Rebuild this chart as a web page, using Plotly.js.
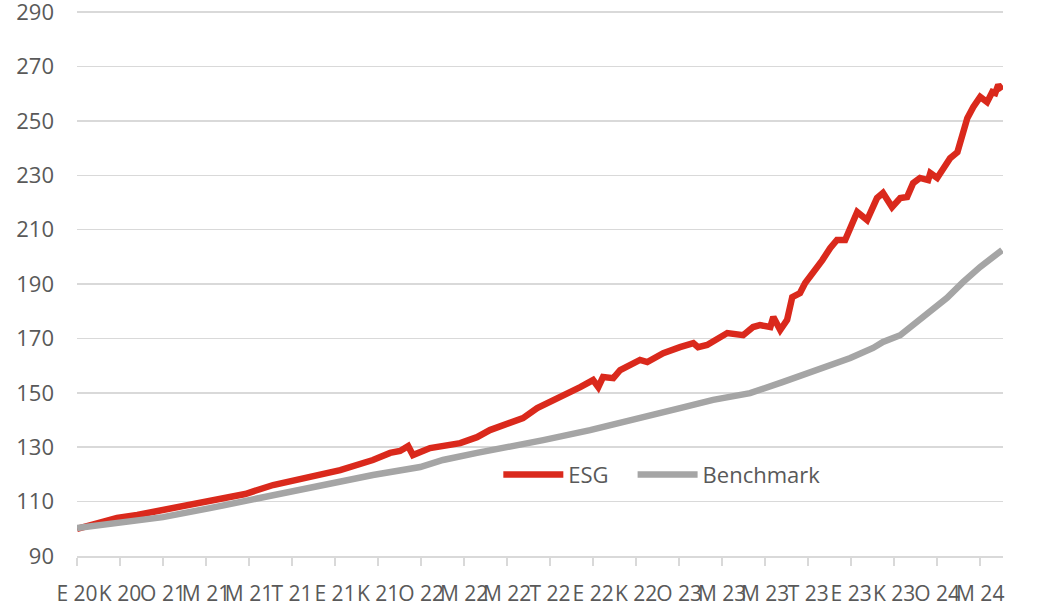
<!DOCTYPE html>
<html>
<head>
<meta charset="utf-8">
<script src="https://cdn.plot.ly/plotly-3.0.1.min.js"></script>
<style>
  html, body { margin: 0; padding: 0; background: #ffffff; }
  #chart { width: 1038px; height: 607px; }
</style>
</head>
<body>
<div id="chart"></div>
<script>
// Tick labels (one every tick position along the time axis)
const tickLabels = ["E 20","K 20","O 21","M 21","M 21","T 21","E 21","K 21","O 22","M 22","M 22",
                    "T 22","E 22","K 22","O 23","M 23","M 23","T 23","E 23","K 23","O 24","M 24"];
const tickPositions = [0,1,2,3,4,5,6,7,8,9,10,11,12,13,14,15,16,17,18,19,20,21];

// ESG series: position along time axis (in tick units) and index value
const esgX = [0.00,0.30,0.93,1.40,2.00,2.56,3.09,3.72,3.91,4.56,5.35,6.12,6.88,7.28,7.51,7.70,7.81,7.98,
              8.21,8.91,9.30,9.60,10.07,10.37,10.70,11.00,11.47,11.70,12.00,12.12,12.23,12.47,12.63,12.86,
              13.09,13.26,13.63,14.02,14.33,14.44,14.65,15.12,15.49,15.72,15.88,16.12,16.19,16.35,16.51,
              16.63,16.81,16.93,17.12,17.33,17.51,17.67,17.86,17.98,18.14,18.37,18.60,18.74,18.95,19.14,
              19.30,19.44,19.60,19.79,19.84,20.00,20.14,20.30,20.47,20.60,20.70,20.84,21.00,21.16,21.28,
              21.35,21.42,21.51];
const esgY = [100.0,101.4,104.0,105.1,106.9,108.4,109.9,111.7,112.8,116.1,119.0,121.6,125.3,127.9,128.6,130.4,127.1,128.2,
              129.7,131.5,133.7,136.3,138.9,140.7,144.4,146.6,149.9,152.1,154.7,152.1,155.8,155.4,158.4,160.2,
              162.1,161.3,164.6,166.8,168.3,166.8,167.6,172.0,171.2,174.2,174.9,174.2,177.9,173.1,176.8,
              185.2,186.7,190.4,194.0,198.8,203.2,206.2,206.2,211.0,216.5,213.5,221.6,223.5,218.3,221.6,
              222.0,227.1,229.0,228.2,230.8,229.0,232.6,236.3,238.5,245.5,251.0,255.1,258.8,256.9,260.6,
              260.2,263.2,261.3];

// Benchmark series
const benchX = [0.00,0.93,2.00,3.09,4.02,4.56,5.35,6.12,6.88,7.98,8.51,9.30,10.07,10.84,11.93,13.26,14.02,
                14.79,15.65,16.42,17.21,17.98,18.51,18.74,19.14,19.44,19.84,20.23,20.60,21.00,21.51];
const benchY = [100.3,102.1,104.3,107.6,110.6,112.4,115.0,117.2,119.8,122.7,125.3,127.9,130.1,132.6,136.3,141.8,144.4,
                147.4,149.9,154.0,158.4,162.8,166.5,168.7,171.2,174.9,179.7,184.9,190.7,196.3,202.5];

const seriesNames = ["ESG", "Benchmark"];

const FONT = "'Open Sans', 'Noto Sans', sans-serif";
const TXT = "#595959";

const traces = [
  { x: esgX, y: esgY, name: seriesNames[0], type: "scatter", mode: "lines", legend: "legend",
    line: { color: "#da291c", width: 6.5 } },
  { x: benchX, y: benchY, name: seriesNames[1], type: "scatter", mode: "lines", legend: "legend2",
    line: { color: "#a5a5a5", width: 6.5 } }
];

const legendBase = {
  orientation: "h", xanchor: "left", y: 0.149, yanchor: "middle",
  font: { family: FONT, size: 22, color: TXT }, bgcolor: "rgba(0,0,0,0)",
  itemwidth: 60
};

const layout = {
  width: 1038, height: 607,
  margin: { l: 77, r: 35, t: 11, b: 51 },
  paper_bgcolor: "#ffffff", plot_bgcolor: "#ffffff",
  font: { family: FONT, size: 22, color: TXT },
  showlegend: true,
  legend: Object.assign({}, legendBase, { x: 0.455 }),
  legend2: Object.assign({}, legendBase, { x: 0.600 }),
  xaxis: {
    type: "linear", range: [0, 21.53],
    tickvals: tickPositions, ticktext: tickLabels,
    showgrid: false, zeroline: false,
    showline: true, linecolor: "#d9d9d9", linewidth: 1.5,
    ticks: "outside", ticklen: 8, tickcolor: "#d9d9d9", tickwidth: 1.5,
    tickangle: 0, ticklabelstandoff: 10,
    tickfont: { family: FONT, size: 21, color: TXT }
  },
  yaxis: {
    range: [90, 290.4], tickvals: [90,110,130,150,170,190,210,230,250,270,290],
    showgrid: true, gridcolor: "#d9d9d9", gridwidth: 1.5,
    zeroline: false, showline: false, ticks: "",
    ticklabelstandoff: 22, ticklabeloverflow: "allow",
    tickfont: { family: FONT, size: 22, color: TXT }
  }
};

Plotly.newPlot("chart", traces, layout, { displayModeBar: false, staticPlot: true });
</script>
</body>
</html>
